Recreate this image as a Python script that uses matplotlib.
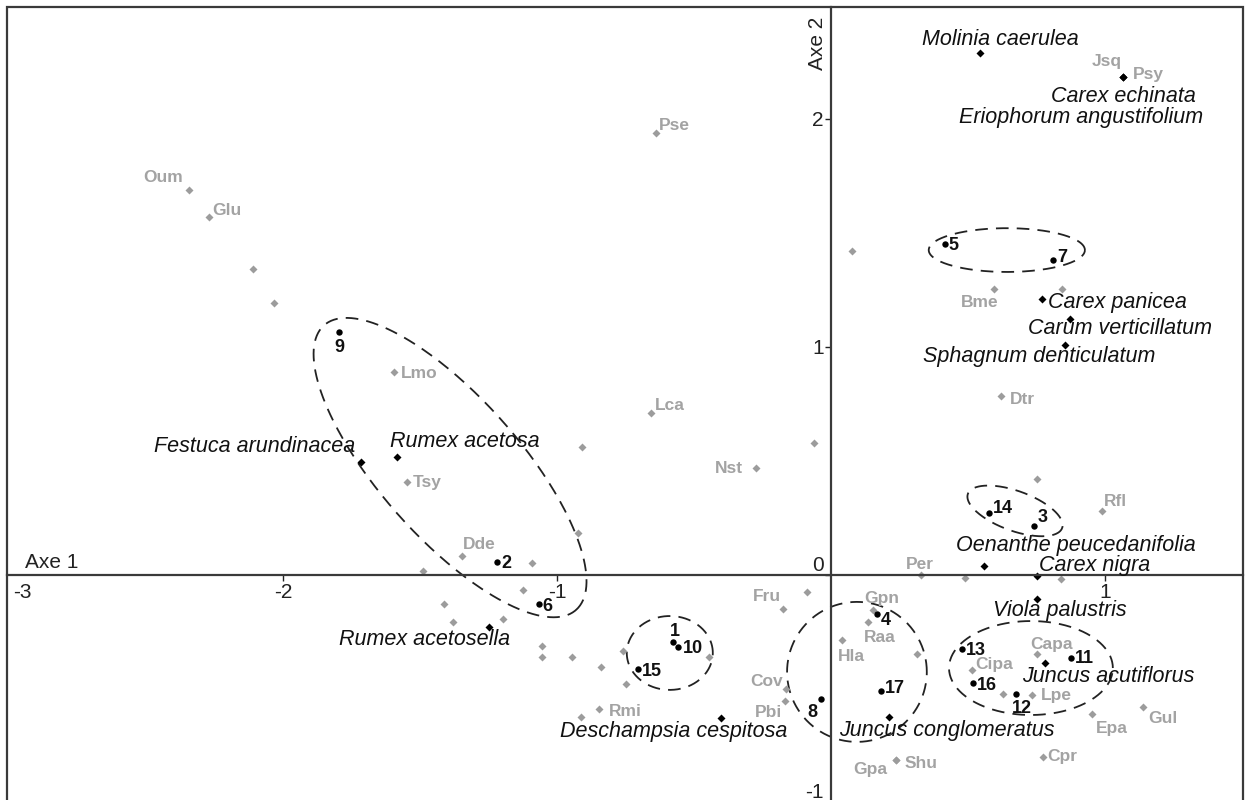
import numpy as np
import matplotlib.pyplot as plt
from matplotlib.transforms import ScaledTranslation

plt.rcParams["font.family"] = ["Liberation Sans", "DejaVu Sans"]

# species with full names (black diamonds)
species_names = ["Molinia caerulea", "Carex echinata", "Eriophorum angustifolium",
                 "Carex panicea", "Carum verticillatum", "Sphagnum denticulatum",
                 "Oenanthe peucedanifolia", "Carex nigra", "Viola palustris",
                 "Juncus acutiflorus", "Juncus conglomeratus", "Deschampsia cespitosa",
                 "Rumex acetosella", "Festuca arundinacea", "Rumex acetosa"]
species_x = [0.544, 1.066, 1.066, 0.770, 0.872, 0.854, 0.558, 0.752, 0.752,
             0.781, 0.212, -0.401, -1.248, -1.715, -1.584]
species_y = [2.289, 2.184, 2.184, 1.211, 1.123, 1.009, 0.039, -0.004, -0.105,
             -0.386, -0.623, -0.627, -0.228, 0.496, 0.518]

# sites (black dots)
site_ids = ["1", "2", "3", "4", "5", "6", "7", "8", "9", "10",
            "11", "12", "13", "14", "15", "16", "17"]
site_x = [-0.577, -1.219, 0.741, 0.168, 0.416, -1.066, 0.810, -0.036, -1.796, -0.558,
          0.876, 0.675, 0.478, 0.577, -0.704, 0.518, 0.182]
site_y = [-0.294, 0.057, 0.215, -0.171, 1.452, -0.127, 1.382, -0.544, 1.066, -0.316,
          -0.364, -0.522, -0.325, 0.272, -0.412, -0.474, -0.509]

# other species with short codes (grey)
code_names = ["Oum", "Glu", "Lmo", "Tsy", "Dde", "Pse", "Lca", "Nst", "Fru", "Cov",
              "Pbi", "Rmi", "Per", "Gpn", "Raa", "Hla", "Cipa", "Capa", "Lpe", "Epa",
              "Gul", "Cpr", "Shu", "Gpa", "Bme", "Dtr", "Rfl", "Jsq", "Psy"]
code_x = [-2.343, -2.270, -1.595, -1.547, -1.347, -0.639, -0.657, -0.274, -0.175, -0.164,
          -0.168, -0.847, 0.328, 0.153, 0.135, 0.040, 0.515, 0.752, 0.734, 0.953,
          1.139, 0.774, 0.237, 0.237, 0.595, 0.620, 0.989, 1.066, 1.066]
code_y = [1.689, 1.570, 0.890, 0.408, 0.083, 1.939, 0.711, 0.469, -0.149, -0.500,
          -0.553, -0.588, 0.000, -0.154, -0.206, -0.285, -0.417, -0.346, -0.526, -0.610,
          -0.579, -0.798, -0.811, -0.811, 1.254, 0.785, 0.281, 2.184, 2.184]

# grey species without label
other_x = [-2.109, -2.033, -0.909, -0.923, -1.091, -1.489, -1.124, -1.412, -1.380,
           -1.197, -1.055, -1.055, -0.945, -0.839, -0.759, -0.748, -0.445, -0.912,
           -0.088, -0.062, 0.077, 0.843, 0.752, 0.489, 0.839, 0.314, 0.628]
other_y = [1.342, 1.193, 0.561, 0.184, 0.053, 0.018, -0.066, -0.127, -0.206,
           -0.193, -0.311, -0.360, -0.360, -0.404, -0.333, -0.478, -0.360, -0.623,
           -0.075, 0.579, 1.421, 1.254, 0.421, -0.013, -0.018, -0.346, -0.522]

# dashed groups: centre, first and second semi-axis vectors
groups = [
    ((-1.390, 0.471), (0.460, -0.624), (0.191, 0.204)),
    ((-0.588, -0.342), (0.157, 0.0), (0.0, 0.162)),
    ((0.095, -0.425), (0.255, 0.0), (0.0, 0.307)),
    ((0.730, -0.408), (0.299, 0.0), (0.0, 0.206)),
    ((0.642, 1.425), (0.285, 0.0), (0.0, 0.096)),
    ((0.672, 0.281), (0.172, -0.075), (-0.025, -0.082)),
]

# label placement (pixel offsets, alignment)
species_lab = {
    "Molinia caerulea": (20, 14, "center"), "Carex echinata": (0, -19, "center"),
    "Eriophorum angustifolium": (-42, -40, "center"), "Carex panicea": (6, -4, "left"),
    "Carum verticillatum": (50, -10, "center"), "Sphagnum denticulatum": (-26, -12, "center"),
    "Oenanthe peucedanifolia": (92, 21, "center"), "Carex nigra": (2, 10, "left"),
    "Viola palustris": (23, -12, "center"), "Juncus acutiflorus": (63, -14, "center"),
    "Juncus conglomeratus": (58, -13, "center"), "Deschampsia cespitosa": (-47, -14, "center"),
    "Rumex acetosella": (-64, -13, "center"), "Festuca arundinacea": (-6, 15, "right"),
    "Rumex acetosa": (-7, 15, "left"),
}
site_lab = {
    "1": (2, 11, "center"), "2": (4, -2, "left"), "3": (4, 8, "left"), "4": (4, -7, "left"),
    "5": (4, -2, "left"), "6": (4, -3, "left"), "7": (4, 2, "left"), "8": (-9, -13, "center"),
    "9": (1, -16, "center"), "10": (5, -1, "left"), "11": (4, -1, "left"),
    "12": (6, -14, "center"), "13": (4, -1, "left"), "14": (4, 4, "left"),
    "15": (4, -3, "left"), "16": (4, -2, "left"), "17": (4, 3, "left"),
}
code_lab = {
    "Oum": (-6, 12, "right"), "Glu": (3, 7, "left"), "Lmo": (7, -1, "left"),
    "Tsy": (6, -1, "left"), "Dde": (1, 12, "left"), "Pse": (3, 7, "left"),
    "Lca": (4, 7, "left"), "Nst": (-13, 0, "right"), "Fru": (-2, 12, "right"),
    "Cov": (-3, 7, "right"), "Pbi": (-3, -11, "right"), "Rmi": (10, -2, "left"),
    "Per": (-1, 10, "center"), "Gpn": (9, 12, "center"), "Raa": (12, -16, "center"),
    "Hla": (10, -17, "center"), "Cipa": (3, 6, "left"), "Capa": (15, 9, "center"),
    "Lpe": (9, -1, "left"), "Epa": (20, -14, "center"), "Gul": (5, -11, "left"),
    "Cpr": (4, 0, "left"), "Shu": (9, -4, "left"), "Gpa": (-26, -10, "center"),
    "Bme": (-14, -13, "center"), "Dtr": (9, -4, "left"), "Rfl": (2, 9, "left"),
    "Jsq": (-16, 16, "center"), "Psy": (10, 3, "left"),
}

grey = "#9c9c9c"
grey_txt = "#a3a3a3"

fig = plt.figure(figsize=(12.47, 8), dpi=100)
ax = fig.add_axes([7 / 1247, -3 / 800, 1236 / 1247, 796 / 800])
ax.set_xlim(-3.007, 1.504)
ax.set_ylim(-1.0, 2.491)

for side in ["top", "right"]:
    ax.spines[side].set_visible(False)
for side in ["left", "bottom"]:
    ax.spines[side].set_position(("data", 0))
    ax.spines[side].set_linewidth(1.6)
    ax.spines[side].set_color("#3a3a3a")
ax.add_patch(plt.Rectangle((0, 0), 1, 1, transform=ax.transAxes, fill=False,
                           lw=1.6, ec="#3a3a3a", clip_on=False))

ax.set_xticks([-2, -1, 1])
ax.set_xticklabels(["-2", "-1", "1"])
ax.set_yticks([-1, 0, 1, 2])
ax.set_yticklabels(["-1", "0", "1", "2"])
ax.tick_params(direction="out", length=4, width=1, labelsize=15, pad=2, colors="#222222")
ax.tick_params(axis="y", pad=1)
for lab in ax.get_yticklabels():
    if lab.get_text() == "0":
        lab.set_transform(lab.get_transform() + ScaledTranslation(0, 0.11, fig.dpi_scale_trans))
    if lab.get_text() == "-1":
        lab.set_transform(lab.get_transform() + ScaledTranslation(0, 0.13, fig.dpi_scale_trans))
ax.annotate("-3", xy=(-3, 0), xytext=(4, -18), textcoords="offset pixels",
            ha="left", va="center", fontsize=15, color="#222222")

ax.text(18 / 1236, 1 - (563 - 7) / 796, "Axe 1", transform=ax.transAxes,
        ha="left", va="center", fontsize=15, color="#222222")
ax.annotate("Axe 2", xy=(0, 2.491), xytext=(-13, -36), textcoords="offset pixels",
            rotation=90, ha="center", va="center", fontsize=15, color="#222222")

# dashed groups
t = np.linspace(0, 2 * np.pi, 300)
for (cx, cy), (ax1, ay1), (bx1, by1) in groups:
    ex = cx + np.cos(t) * ax1 + np.sin(t) * bx1
    ey = cy + np.cos(t) * ay1 + np.sin(t) * by1
    ax.plot(ex, ey, color="#222222", lw=1.3, ls=(0, (7, 4.5)))

ax.plot(other_x, other_y, "D", color=grey, ms=3.6, mec="none")
ax.plot(code_x, code_y, "D", color=grey, ms=3.6, mec="none")
for name, x, y in zip(code_names, code_x, code_y):
    dx, dy, ha = code_lab[name]
    ax.annotate(name, xy=(x, y), xytext=(dx, dy), textcoords="offset pixels",
                ha=ha, va="center", fontsize=12.5, fontweight="bold", color=grey_txt)

ax.plot(species_x, species_y, "D", color="black", ms=3.8, mec="none")
for name, x, y in zip(species_names, species_x, species_y):
    dx, dy, ha = species_lab[name]
    ax.annotate(name, xy=(x, y), xytext=(dx, dy), textcoords="offset pixels",
                ha=ha, va="center", fontsize=15.5, style="italic", color="#111111")

ax.plot(site_x, site_y, "o", color="black", ms=4.6, mec="none")
for sid, x, y in zip(site_ids, site_x, site_y):
    dx, dy, ha = site_lab[sid]
    ax.annotate(sid, xy=(x, y), xytext=(dx, dy), textcoords="offset pixels",
                ha=ha, va="center", fontsize=13, fontweight="bold", color="#111111")

fig.savefig("out.png", dpi=100)
